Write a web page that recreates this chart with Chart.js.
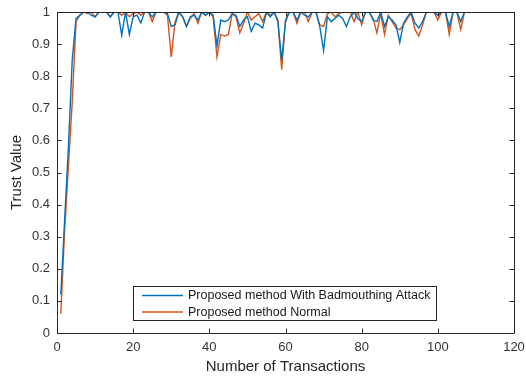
<!DOCTYPE html>
<html>
<head>
<meta charset="utf-8">
<script src="https://cdn.jsdelivr.net/npm/chart.js@4.4.1/dist/chart.umd.min.js"></script>
<style>
  html, body { margin: 0; padding: 0; background: #fff; }
  #wrap { width: 526px; height: 376px; }
</style>
</head>
<body>
<div id="wrap"><canvas id="c" width="526" height="376"></canvas></div>
<script>
// Transaction index 1..107
const transactions = Array.from({ length: 107 }, (_, i) => i + 1);

// Trust value under a badmouthing attack
const trustAttack = [
  0.12, 0.35, 0.58, 0.85, 0.98, 0.99, 1.00, 1.00, 0.99, 0.985,
  1.00, 1.00, 1.00, 0.985, 1.00, 1.00, 0.928, 1.00, 0.93, 0.985,
  0.99, 0.966, 1.00, 1.00, 0.985, 1.00, 1.00, 1.00, 0.995, 0.955,
  0.96, 1.00, 0.985, 0.955, 0.985, 0.99, 0.975, 1.00, 0.99, 1.00,
  0.99, 0.895, 0.975, 0.97, 0.975, 0.995, 0.99, 0.955, 0.975, 0.985,
  0.94, 0.965, 0.96, 0.95, 1.00, 0.985, 1.00, 0.97, 0.85, 0.97,
  1.00, 1.00, 0.975, 1.00, 0.99, 0.985, 1.00, 1.00, 0.955, 0.88,
  0.985, 0.97, 0.98, 0.99, 0.98, 0.955, 0.985, 1.00, 0.98, 0.97,
  1.00, 1.00, 0.975, 0.97, 1.00, 0.955, 0.985, 0.975, 0.96, 0.905,
  0.965, 0.985, 1.00, 0.965, 0.95, 0.97, 1.00, 1.00, 1.00, 0.99,
  1.00, 1.00, 0.955, 1.00, 1.00, 0.97, 1.00
];

// Trust value under normal operation
const trustNormal = [
  0.06, 0.32, 0.52, 0.72, 0.97, 0.99, 1.00, 0.995, 1.00, 0.985,
  1.00, 1.00, 1.00, 0.985, 1.00, 1.00, 0.99, 1.00, 0.985, 0.995,
  1.00, 0.99, 1.00, 1.00, 0.97, 1.00, 1.00, 1.00, 0.99, 0.86,
  0.97, 1.00, 0.985, 0.955, 0.98, 0.995, 0.965, 1.00, 0.99, 1.00,
  0.985, 0.86, 0.93, 0.925, 0.93, 0.995, 0.985, 0.935, 0.965, 1.00,
  0.975, 0.985, 0.995, 0.97, 1.00, 0.99, 1.00, 0.975, 0.82, 0.975,
  1.00, 1.00, 0.965, 1.00, 1.00, 0.97, 1.00, 1.00, 0.96, 0.955,
  0.995, 1.00, 0.985, 0.995, 1.00, 1.00, 1.00, 0.97, 1.00, 0.96,
  1.00, 1.00, 0.98, 0.935, 0.995, 0.93, 0.99, 0.97, 0.95, 0.945,
  0.96, 0.98, 0.995, 0.945, 0.925, 0.96, 1.00, 1.00, 1.00, 0.975,
  1.00, 1.00, 0.93, 1.00, 1.00, 0.945, 1.00
];

const xTicks = [0, 20, 40, 60, 80, 100, 120];
const yTicks = [0, 0.1, 0.2, 0.3, 0.4, 0.5, 0.6, 0.7, 0.8, 0.9, 1];
const seriesLabels = ['Proposed method With Badmouthing Attack', 'Proposed method Normal'];

const FONT = '"Liberation Sans", Arial, Helvetica, sans-serif';
const AXIS_COLOR = '#262626';

// Box around the axes with inward ticks on all four sides
const boxTicks = {
  id: 'boxTicks',
  afterDatasetsDraw(chart) {
    const { ctx, chartArea: a, scales } = chart;
    const len = 4.5;
    ctx.save();
    ctx.strokeStyle = AXIS_COLOR;
    ctx.lineWidth = 1;
    ctx.beginPath();
    ctx.rect(Math.round(a.left) + 0.5, Math.round(a.top) + 0.5,
             Math.round(a.right - a.left), Math.round(a.bottom - a.top));
    xTicks.forEach(v => {
      const x = Math.round(scales.x.getPixelForValue(v)) + 0.5;
      ctx.moveTo(x, a.bottom); ctx.lineTo(x, a.bottom - len);
      ctx.moveTo(x, a.top); ctx.lineTo(x, a.top + len);
    });
    yTicks.forEach(v => {
      const y = Math.round(scales.y.getPixelForValue(v)) + 0.5;
      ctx.moveTo(a.left, y); ctx.lineTo(a.left + len, y);
      ctx.moveTo(a.right, y); ctx.lineTo(a.right - len, y);
    });
    ctx.stroke();
    ctx.restore();
  }
};

// Legend box placed inside the lower part of the axes
const insetLegend = {
  id: 'insetLegend',
  afterDraw(chart) {
    const { ctx } = chart;
    const bx = 133.5, by = 286.5, bw = 303, bh = 34;
    ctx.save();
    ctx.fillStyle = '#fff';
    ctx.fillRect(bx, by, bw, bh);
    ctx.strokeStyle = '#262626';
    ctx.lineWidth = 1;
    ctx.strokeRect(bx, by, bw, bh);
    ctx.font = '12.5px ' + FONT;
    ctx.textBaseline = 'middle';
    chart.data.datasets.forEach((ds, i) => {
      const y = by + 9 + i * 16.5;
      ctx.strokeStyle = ds.borderColor;
      ctx.lineWidth = 1.3;
      ctx.beginPath();
      ctx.moveTo(142, y); ctx.lineTo(183, y);
      ctx.stroke();
      ctx.fillStyle = '#1a1a1a';
      ctx.fillText(ds.label, 188, y + 0.5);
    });
    ctx.restore();
  }
};

new Chart(document.getElementById('c'), {
  type: 'line',
  data: {
    datasets: [
      {
        label: seriesLabels[0],
        data: transactions.map((t, i) => ({ x: t, y: trustAttack[i] })),
        borderColor: '#0072BD',
        borderWidth: 1.4,
        pointRadius: 0,
        tension: 0
      },
      {
        label: seriesLabels[1],
        data: transactions.map((t, i) => ({ x: t, y: trustNormal[i] })),
        borderColor: '#D95319',
        borderWidth: 1.4,
        pointRadius: 0,
        tension: 0
      }
    ]
  },
  options: {
    responsive: false,
    animation: false,
    layout: { padding: { top: 12, right: 12, left: 0, bottom: 0 } },
    plugins: { legend: { display: false }, tooltip: { enabled: false } },
    scales: {
      x: {
        type: 'linear',
        min: 0, max: 120,
        afterBuildTicks: s => { s.ticks = xTicks.map(v => ({ value: v })); },
        afterFit: s => { s.height = 43; s.paddingLeft = 0; s.paddingRight = 0; },
        grid: { display: false, drawTicks: false },
        border: { display: false },
        ticks: {
          padding: 7,
          color: '#333',
          font: { family: FONT, size: 13 },
          maxRotation: 0
        },
        title: {
          display: true,
          text: 'Number of Transactions',
          color: '#262626',
          font: { family: FONT, size: 15 },
          padding: { top: 0, bottom: 0 }
        }
      },
      y: {
        type: 'linear',
        min: 0, max: 1,
        afterBuildTicks: s => { s.ticks = yTicks.map(v => ({ value: v })); },
        afterFit: s => { s.width = 57; s.paddingTop = 0; s.paddingBottom = 0; },
        grid: { display: false, drawTicks: false },
        border: { display: false },
        ticks: {
          padding: 7,
          color: '#333',
          font: { family: FONT, size: 13 },
          callback: v => String(Math.round(v * 10) / 10)
        },
        title: {
          display: true,
          text: 'Trust Value',
          color: '#262626',
          font: { family: FONT, size: 15 },
          padding: { top: 8, bottom: 0 }
        }
      }
    }
  },
  plugins: [boxTicks, insetLegend]
});
</script>
</body>
</html>
